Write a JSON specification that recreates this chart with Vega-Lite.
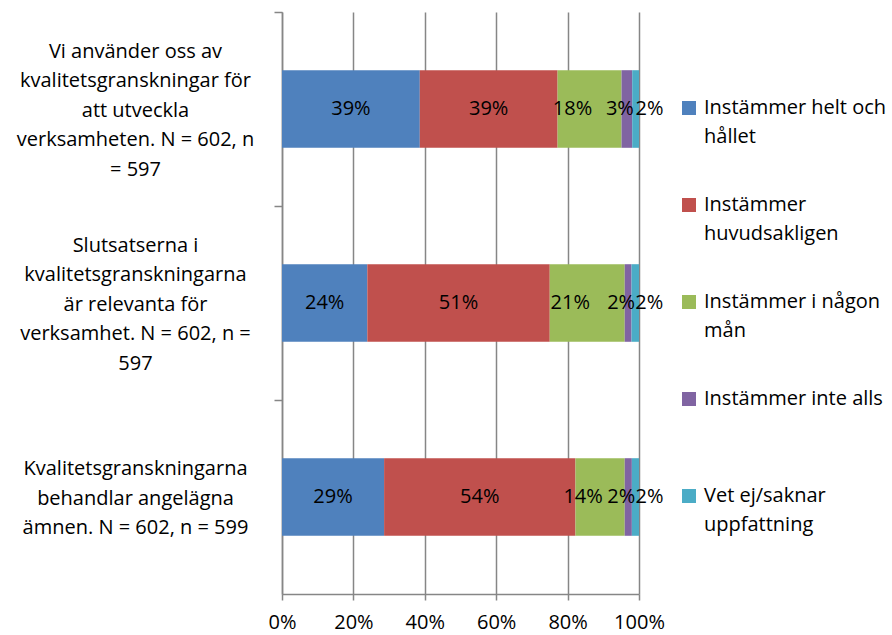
{
  "$schema": "https://vega.github.io/schema/vega-lite/v6.json",
  "width": 357,
  "height": 582,
  "autosize": {"type": "none"},
  "padding": {"left": 282, "top": 12, "right": 253, "bottom": 41},
  "background": "white",
  "config": {"view": {"stroke": null}, "font": "Open Sans"},
  "data": {
    "values": [
      {"q": "Vi använder oss av kvalitetsgranskningar för att utveckla verksamheten. N = 602, n = 597", "series": "Instämmer helt och hållet", "idx": 1, "value": 0.386},
      {"q": "Vi använder oss av kvalitetsgranskningar för att utveckla verksamheten. N = 602, n = 597", "series": "Instämmer huvudsakligen", "idx": 2, "value": 0.386},
      {"q": "Vi använder oss av kvalitetsgranskningar för att utveckla verksamheten. N = 602, n = 597", "series": "Instämmer i någon mån", "idx": 3, "value": 0.179},
      {"q": "Vi använder oss av kvalitetsgranskningar för att utveckla verksamheten. N = 602, n = 597", "series": "Instämmer inte alls", "idx": 4, "value": 0.03},
      {"q": "Vi använder oss av kvalitetsgranskningar för att utveckla verksamheten. N = 602, n = 597", "series": "Vet ej/saknar uppfattning", "idx": 5, "value": 0.019},
      {"q": "Slutsatserna i kvalitetsgranskningarna är relevanta för verksamhet. N = 602, n = 597", "series": "Instämmer helt och hållet", "idx": 1, "value": 0.239},
      {"q": "Slutsatserna i kvalitetsgranskningarna är relevanta för verksamhet. N = 602, n = 597", "series": "Instämmer huvudsakligen", "idx": 2, "value": 0.511},
      {"q": "Slutsatserna i kvalitetsgranskningarna är relevanta för verksamhet. N = 602, n = 597", "series": "Instämmer i någon mån", "idx": 3, "value": 0.21},
      {"q": "Slutsatserna i kvalitetsgranskningarna är relevanta för verksamhet. N = 602, n = 597", "series": "Instämmer inte alls", "idx": 4, "value": 0.019},
      {"q": "Slutsatserna i kvalitetsgranskningarna är relevanta för verksamhet. N = 602, n = 597", "series": "Vet ej/saknar uppfattning", "idx": 5, "value": 0.021},
      {"q": "Kvalitetsgranskningarna behandlar angelägna ämnen. N = 602, n = 599", "series": "Instämmer helt och hållet", "idx": 1, "value": 0.286},
      {"q": "Kvalitetsgranskningarna behandlar angelägna ämnen. N = 602, n = 599", "series": "Instämmer huvudsakligen", "idx": 2, "value": 0.536},
      {"q": "Kvalitetsgranskningarna behandlar angelägna ämnen. N = 602, n = 599", "series": "Instämmer i någon mån", "idx": 3, "value": 0.138},
      {"q": "Kvalitetsgranskningarna behandlar angelägna ämnen. N = 602, n = 599", "series": "Instämmer inte alls", "idx": 4, "value": 0.02},
      {"q": "Kvalitetsgranskningarna behandlar angelägna ämnen. N = 602, n = 599", "series": "Vet ej/saknar uppfattning", "idx": 5, "value": 0.02}
    ]
  },
  "encoding": {
    "y": {
      "field": "q",
      "type": "nominal",
      "sort": null,
      "scale": {"paddingInner": 0.6, "paddingOuter": 0.3},
      "axis": {
        "title": null,
        "grid": false,
        "domainColor": "#868686",
        "domainWidth": 1.5,
        "tickColor": "#868686",
        "tickWidth": 1.5,
        "tickSize": 8,
        "tickOffset": -97,
        "tickExtra": true,
        "labelAlign": "center",
        "labelPadding": 139,
        "labelOffset": 39,
        "labelFont": "Open Sans",
        "labelFontSize": 20,
        "labelColor": "black",
        "labelLineHeight": 29.5,
        "labelLimit": 0,
        "labelExpr": "indexof(datum.label, 'Vi använder') == 0 ? ['Vi använder oss av', 'kvalitetsgranskningar för', 'att utveckla', 'verksamheten. N = 602, n', '= 597'] : indexof(datum.label, 'Slutsatserna') == 0 ? ['Slutsatserna i', 'kvalitetsgranskningarna', 'är relevanta för', 'verksamhet. N = 602, n =', '597'] : indexof(datum.label, 'Kvalitetsgranskningarna') == 0 ? ['', 'Kvalitetsgranskningarna', 'behandlar angelägna', 'ämnen. N = 602, n = 599'] : datum.label"
      }
    }
  },
  "layer": [
    {
      "mark": {"type": "bar"},
      "encoding": {
        "x": {
          "field": "value",
          "type": "quantitative",
          "stack": "zero",
          "scale": {"domain": [0, 1], "nice": false},
          "axis": {
            "title": null,
            "values": [0, 0.2, 0.4, 0.6, 0.8, 1],
            "format": ".0%",
            "grid": true,
            "gridColor": "#868686",
            "gridWidth": 1.5,
            "domainColor": "#868686",
            "domainWidth": 1.5,
            "tickColor": "#868686",
            "tickWidth": 1.5,
            "tickSize": 6,
            "labelPadding": 12,
            "labelFont": "Open Sans",
            "labelFontSize": 20,
            "labelColor": "black",
            "labelFlush": false
          }
        },
        "color": {
          "field": "series",
          "type": "nominal",
          "scale": {
            "domain": ["Instämmer helt och hållet", "Instämmer huvudsakligen", "Instämmer i någon mån", "Instämmer inte alls", "Vet ej/saknar uppfattning"],
            "range": ["#4F81BD", "#C0504D", "#9BBB59", "#8064A2", "#4BACC6"]
          },
          "legend": {
            "title": null,
            "orient": "none",
            "legendX": 397,
            "legendY": 86,
            "direction": "vertical",
            "padding": 0,
            "symbolType": "square",
            "symbolSize": 196,
            "symbolStrokeWidth": 0,
            "symbolOpacity": 1,
            "labelFont": "Open Sans",
            "labelFontSize": 20,
            "labelColor": "black",
            "labelLimit": 0,
            "labelOffset": 5,
            "labelBaseline": "alphabetic",
            "gridAlign": "all",
            "rowPadding": 48,
            "labelExpr": "datum.label == 'Instämmer helt och hållet' ? ['Instämmer helt och', 'hållet'] : datum.label == 'Instämmer huvudsakligen' ? ['Instämmer', 'huvudsakligen'] : datum.label == 'Instämmer i någon mån' ? ['Instämmer i någon', 'mån'] : datum.label == 'Vet ej/saknar uppfattning' ? ['Vet ej/saknar', 'uppfattning'] : datum.label",
            "encode": {
              "labels": {"update": {"dy": {"value": 6}, "lineHeight": {"value": 28.5}}}
            }
          }
        },
        "order": {"field": "idx", "type": "quantitative"}
      }
    },
    {
      "mark": {
        "type": "text",
        "font": "Open Sans",
        "fontSize": 20,
        "color": "black",
        "baseline": "middle",
        "dx": {"expr": "datum.series == 'Instämmer i någon mån' ? -17 : datum.series == 'Instämmer inte alls' ? -7 : datum.series == 'Vet ej/saknar uppfattning' ? 14 : 0"}
      },
      "encoding": {
        "x": {
          "field": "value",
          "type": "quantitative",
          "stack": "zero",
          "bandPosition": 0.5
        },
        "text": {"field": "value", "type": "quantitative", "format": ".0%"},
        "detail": {"field": "series", "type": "nominal"},
        "order": {"field": "idx", "type": "quantitative"}
      }
    }
  ]
}
